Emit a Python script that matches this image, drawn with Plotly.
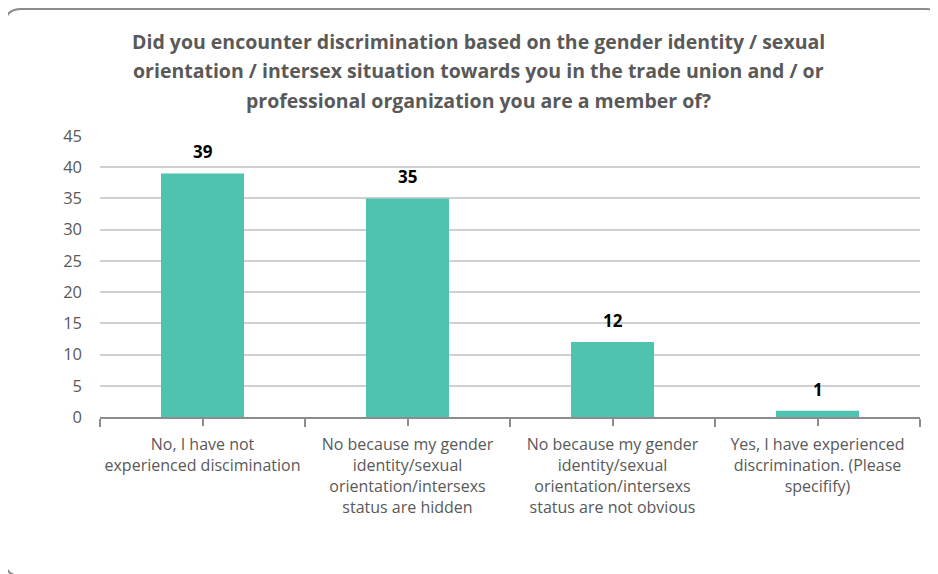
import plotly.graph_objects as go

title_lines = [
    "Did you encounter discrimination based on the gender identity / sexual",
    "orientation / intersex situation towards you in the trade union and / or",
    "professional organization you are a member of?",
]
categories = [
    "No, I have not<br>experienced discimination",
    "No because my gender<br>identity/sexual<br>orientation/intersexs<br>status are hidden",
    "No because my gender<br>identity/sexual<br>orientation/intersexs<br>status are not obvious",
    "Yes, I have experienced<br>discrimination. (Please<br>specifify)",
]
values = [39, 35, 12, 1]
y_ticks = [0, 5, 10, 15, 20, 25, 30, 35, 40, 45]

OFF = 8  # page body margin
W, H = 930, 566
L, R, T, B = 92, 18, 128, 157
pw, ph = W - L - R, H - T - B

def px(x):
    return (x - OFF - L) / pw

def py(y):
    return (H - B - (y - OFF)) / ph

FONT = "Open Sans"
BAR = "#4EC3AF"

x_idx = list(range(len(categories)))

fig = go.Figure()
fig.add_trace(go.Bar(
    x=x_idx, y=values, width=0.405, marker=dict(color=BAR, line=dict(width=0)),
    hoverinfo="skip",
))

annotations = []
for i, v in zip(x_idx, values):
    annotations.append(dict(
        x=i, y=v, xref="x", yref="y", text="<b>%d</b>" % v, showarrow=False,
        yanchor="bottom", yshift=8, font=dict(family=FONT, size=17, color="#000000"),
    ))
title_y = [42, 71, 100]
for line, yy in zip(title_lines, title_y):
    annotations.append(dict(
        x=px(478), y=py(yy), xref="paper", yref="paper", text="<b>%s</b>" % line,
        showarrow=False, xanchor="center", yanchor="middle",
        font=dict(family=FONT, size=19.5, color="#595959"),
    ))

# rounded outer border
x0, x1, y0, y1, r = 5, 942, 9, 576, 16
path = (
    f"M {px(x0)},{py(y0 + r)} "
    f"Q {px(x0)},{py(y0)} {px(x0 + r)},{py(y0)} "
    f"L {px(x1 - r)},{py(y0)} "
    f"Q {px(x1)},{py(y0)} {px(x1)},{py(y0 + r)} "
    f"L {px(x1)},{py(y1 - r)} "
    f"Q {px(x1)},{py(y1)} {px(x1 - r)},{py(y1)} "
    f"L {px(x0 + r)},{py(y1)} "
    f"Q {px(x0)},{py(y1)} {px(x0)},{py(y1 - r)} Z"
)

fig.update_layout(
    width=W, height=H,
    margin=dict(l=L, r=R, t=T, b=B),
    paper_bgcolor="white", plot_bgcolor="white",
    showlegend=False,
    annotations=annotations,
    shapes=[dict(type="path", path=path, xref="paper", yref="paper",
                 line=dict(color="#8C8C8C", width=2), layer="below")],
    xaxis=dict(
        range=[-0.5, 3.5], tickmode="array", tickvals=x_idx, ticktext=categories,
        showline=True, linecolor="#8C8C8C", linewidth=2,
        ticks="outside", ticklen=7, tickwidth=1.5, tickcolor="#8C8C8C",
        minor=dict(tickmode="linear", tick0=-0.5, dtick=1, ticks="outside",
                   ticklen=8, tickwidth=2, tickcolor="#8C8C8C", showgrid=False),
        showgrid=False, zeroline=False,
        tickfont=dict(family=FONT, size=16, color="#595959"),
        ticklabelstandoff=5,
        fixedrange=True,
    ),
    yaxis=dict(
        range=[0, 45], tickmode="array", tickvals=y_ticks,
        showgrid=True, gridcolor="#D0D0D0", gridwidth=2,
        zeroline=False, showline=False, ticks="",
        tickfont=dict(family=FONT, size=16.5, color="#595959"),
        ticklabelstandoff=17,
        fixedrange=True,
    ),
)

fig.write_html("out.html")
